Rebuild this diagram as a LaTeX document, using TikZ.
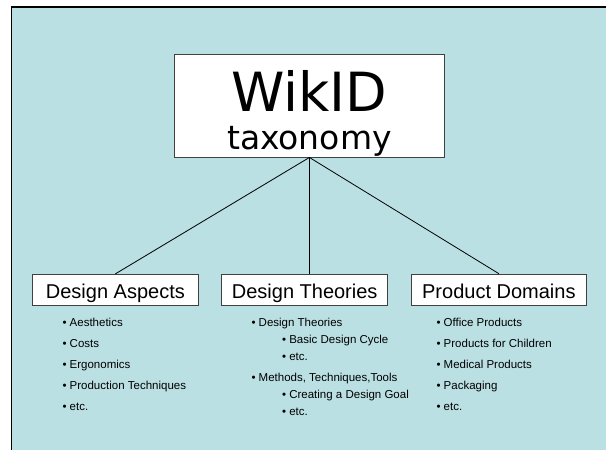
\documentclass[tikz,border=0pt]{standalone}
\usepackage{fontspec}
\setmainfont{Liberation Sans}
\newfontfamily\titlefont{DejaVu Sans}
\definecolor{slideblue}{RGB}{187,224,227}
\definecolor{boxline}{RGB}{64,64,64}

\begin{document}
\begin{tikzpicture}[x=1pt, y=-1pt,
    catbox/.style={rectangle, draw=boxline, fill=white, line width=0.9pt, inner sep=0pt, minimum height=31.4pt, text height=18pt, text depth=1.4pt, font=\fontsize{20}{24}\selectfont},
    entry/.style={anchor=base west, inner sep=0pt, font=\fontsize{11.5}{14}\selectfont}]
    \useasboundingbox (0, 0) rectangle (606, 450);
    \fill[slideblue] (11.3, 7) rectangle (607, 451);
    \draw[line width=1.3pt] (11.3, 451) -- (11.3, 7) -- (607, 7);

    \node[rectangle, draw=boxline, fill=white, line width=0.9pt, inner sep=0pt, minimum width=270.2pt, minimum height=102.7pt, align=center, font=\titlefont] (0) at (309.4, 105.65) {\rule{0pt}{56pt}\fontsize{54}{54}\selectfont WikID\\[14pt]\fontsize{33}{39}\selectfont taxonomy};
    \node[catbox, minimum width=166.2pt] (1) at (115.4, 290) {Design Aspects};
    \node[catbox, minimum width=166pt] (2) at (304.7, 290) {Design Theories};
    \node[catbox, minimum width=175.7pt] (3) at (498.85, 289.8) {Product Domains};
    \draw[line width=0.8pt] (0.south) -- (1.north);
    \draw[line width=0.8pt] (0.south) -- (0.south |- 2.north);
    \draw[line width=0.8pt] (0.south) -- (3.north);

    % design aspects
    \node[entry] (4) at (62.3, 326.7) {\textbullet\ Aesthetics};
    \node[entry] (5) at (62.3, 347.7) {\textbullet\ Costs};
    \node[entry] (6) at (62.3, 368.7) {\textbullet\ Ergonomics};
    \node[entry] (7) at (62.3, 389.7) {\textbullet\ Production Techniques};
    \node[entry] (8) at (62.3, 410.7) {\textbullet\ etc.};

    % design theories
    \node[entry] (9) at (251.3, 326.7) {\textbullet\ Design Theories};
    \node[entry] (10) at (281.9, 343.7) {\textbullet\ Basic Design Cycle};
    \node[entry] (11) at (281.9, 360.3) {\textbullet\ etc.};
    \node[entry] (12) at (251.3, 381.7) {\textbullet\ Methods, Techniques,Tools};
    \node[entry] (13) at (281.9, 398.7) {\textbullet\ Creating a Design Goal};
    \node[entry] (14) at (281.9, 415) {\textbullet\ etc.};

    % product domains
    \node[entry] (15) at (436.3, 326.7) {\textbullet\ Office Products};
    \node[entry] (16) at (436.3, 347.7) {\textbullet\ Products for Children};
    \node[entry] (17) at (436.3, 368.7) {\textbullet\ Medical Products};
    \node[entry] (18) at (436.3, 389.7) {\textbullet\ Packaging};
    \node[entry] (19) at (436.3, 410.7) {\textbullet\ etc.};
\end{tikzpicture}
\end{document}
